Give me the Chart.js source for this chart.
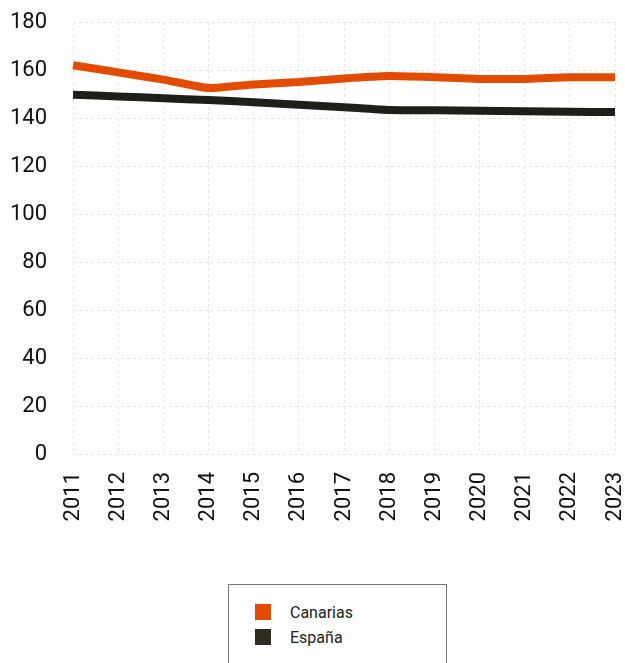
<!DOCTYPE html>
<html>
<head>
<meta charset="utf-8">
<script src="https://cdn.jsdelivr.net/npm/chart.js@4.4.0/dist/chart.umd.min.js"></script>
<style>
  body { margin: 0; background: #fff; font-family: Roboto, sans-serif; }
  #wrap { position: relative; width: 625px; height: 663px; overflow: hidden; }
  #chartBox { position: absolute; left: 0; top: 0; width: 625px; height: 545px; }
  #legend {
    position: absolute; left: 228px; top: 584px; width: 219px; height: 100px;
    border: 1px solid #777; box-sizing: border-box;
  }
  .item { position: absolute; left: 26px; font-size: 16px; color: #222; }
  .item span { display: inline-block; width: 16px; height: 16px; vertical-align: -2px; margin-right: 19px; }
</style>
</head>
<body>
<div id="wrap">
  <div id="chartBox"><canvas id="chart"></canvas></div>
  <div id="legend"></div>
</div>
<script>
// years and the two series
const years = ["2011", "2012", "2013", "2014", "2015", "2016", "2017", "2018", "2019", "2020", "2021", "2022", "2023"];
const canarias = [162, 159, 156, 152.5, 154, 155, 156.5, 157.5, 157, 156.3, 156.3, 157, 157];
const espana = [149.7, 149, 148.2, 147.5, 146.6, 145.5, 144.5, 143.3, 143.2, 143, 142.8, 142.6, 142.5];
const yTicks = [0, 20, 40, 60, 80, 100, 120, 140, 160, 180];

const seriesNames = ["Canarias", "España"];
const lineColors = ["#e34c00", "#1e1e1b"];
const boxColors = ["#e34c00", "#2e2b1f"];

const ctx = document.getElementById("chart").getContext("2d");

new Chart(ctx, {
  type: "line",
  data: {
    labels: years,
    datasets: [
      { label: seriesNames[0], data: canarias, borderColor: lineColors[0], borderWidth: 8, pointRadius: 0, tension: 0.15, fill: false, borderJoinStyle: "round" },
      { label: seriesNames[1], data: espana, borderColor: lineColors[1], borderWidth: 8, pointRadius: 0, tension: 0.15, fill: false, borderJoinStyle: "round" }
    ]
  },
  options: {
    responsive: true,
    maintainAspectRatio: false,
    animation: false,
    layout: { padding: 0 },
    plugins: { legend: { display: false }, tooltip: { enabled: false } },
    scales: {
      x: {
        grid: { color: "#e6e6e6", drawTicks: false },
        border: { display: false, dash: [3, 3] },
        ticks: { color: "#111", font: { family: "Roboto", size: 22 }, minRotation: 90, maxRotation: 90, padding: 18 },
        afterFit: (axis) => {
          axis.height = 91;
          axis.paddingLeft = 0;
          axis.paddingRight = 10;
        }
      },
      y: {
        min: 0,
        max: 180,
        afterBuildTicks: (axis) => { axis.ticks = yTicks.map(v => ({ value: v })); },
        afterFit: (axis) => {
          axis.width = 73;
          axis.paddingTop = 22;
          axis.paddingBottom = 0;
        },
        grid: { color: "#e6e6e6", drawTicks: false },
        border: { display: false, dash: [3, 3] },
        ticks: { color: "#111", font: { family: "Roboto", size: 22 }, padding: 26 }
      }
    }
  }
});

// html legend with the boxed frame
const legend = document.getElementById("legend");
seriesNames.forEach((name, i) => {
  const el = document.createElement("div");
  el.className = "item";
  el.style.top = (18 + i * 25) + "px";
  el.innerHTML = `<span style="background:${boxColors[i]}"></span>${name}`;
  legend.appendChild(el);
});
</script>
</body>
</html>
